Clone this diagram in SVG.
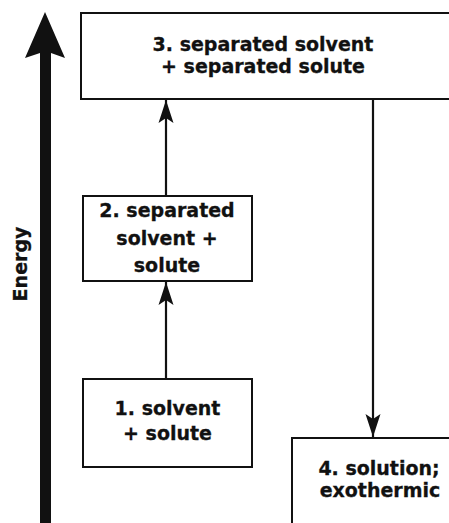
<svg xmlns="http://www.w3.org/2000/svg" width="449" height="523" viewBox="0 0 449 523">
  <style>
    .box { fill: #ffffff; stroke: #111111; stroke-width: 2; }
    .lbl { font-family: "DejaVu Sans", "Liberation Sans", sans-serif; font-weight: bold; font-size: 19px; fill: #111111; stroke: #111111; stroke-width: 0.3; text-anchor: middle; }
    .conn { stroke: #111111; stroke-width: 2.2; fill: none; marker-end: url(#head); }
  </style>
  <defs>
    <marker id="head" markerUnits="userSpaceOnUse" viewBox="-24 -8 25 16" markerWidth="25" markerHeight="16" refX="0" refY="0" orient="auto">
      <path d="M0,0 L-23,-7.5 L-18,0 L-23,7.5 Z" fill="#111111"/>
    </marker>
  </defs>
  <rect width="449" height="523" fill="#ffffff"/>

  <g id="energy-axis">
    <path d="M45,12 L65,58 L51,53 L51,523 L40,523 L40,53 L25,58 Z" fill="#111111"/>
    <text class="lbl" transform="translate(27,264) rotate(-90)">Energy</text>
  </g>

  <g id="connectors">
    <line class="conn" x1="166" y1="379" x2="166" y2="282"/>
    <line class="conn" x1="166" y1="196" x2="166" y2="100"/>
    <line class="conn" x1="373" y1="99" x2="373" y2="437"/>
  </g>

  <g id="node3">
    <rect class="box" x="81" y="13" width="390" height="86"/>
    <text class="lbl" x="263" y="51">3. separated solvent</text>
    <text class="lbl" x="263" y="73">+ separated solute</text>
  </g>

  <g id="node2">
    <rect class="box" x="83" y="196" width="169" height="85"/>
    <text class="lbl" x="167" y="217">2. separated</text>
    <text class="lbl" x="167" y="245">solvent +</text>
    <text class="lbl" x="167" y="272">solute</text>
  </g>

  <g id="node1">
    <rect class="box" x="83" y="379" width="169" height="88"/>
    <text class="lbl" x="167.5" y="415">1. solvent</text>
    <text class="lbl" x="167.5" y="440">+ solute</text>
  </g>

  <g id="node4">
    <rect class="box" x="292" y="438" width="180" height="100"/>
    <text class="lbl" x="379" y="475">4. solution;</text>
    <text class="lbl" x="380" y="497">exothermic</text>
  </g>
</svg>
